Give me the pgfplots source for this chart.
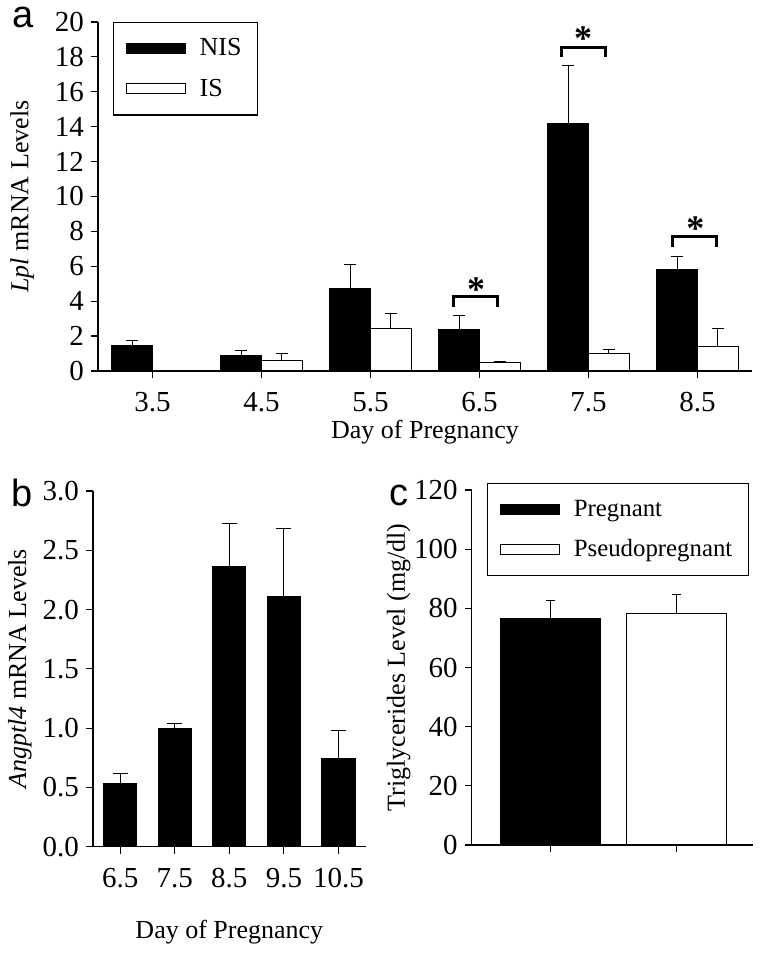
\documentclass[border=0pt]{standalone}
\usepackage{fontspec}
\setmainfont{Liberation Serif}
\newfontfamily\arialfont{Liberation Sans}
\usepackage{pgfplots}
\pgfplotsset{compat=1.18}
\tikzset{sigstar/.style={font=\bfseries\fontsize{18}{18}\selectfont, yshift=-1.5pt}}

\pgfplotsset{
  mystyle/.style={
    scale only axis,
    axis x line*=bottom, axis y line*=left,
    axis line style={-, line width=0.7pt},
    tick align=outside,
    major tick length=3.5pt,
    tick style={black, line width=0.6pt},
    ticklabel style={font=\fontsize{14.5}{16}\selectfont},
    label style={font=\fontsize{13}{15}\selectfont},
    /pgf/number format/assume math mode=true,
    ybar, ymin=0,
    xticklabel style={yshift=-3.8pt},
    legend style={draw=black, line width=0.6pt, font=\fontsize{13}{15}\selectfont,
      inner xsep=6pt, inner ysep=6pt, row sep=6pt, legend cell align=left,
      /tikz/every odd column/.append style={column sep=5pt}},
  },
  barlegend/.style={legend image code/.code={\draw[##1] (0pt,-2.5pt) rectangle (29.5pt,2.5pt);}},
  blackbar/.style={fill=black, draw=black, line width=0.5pt, bar shift=0pt, barlegend,
    error bars/.cd, y dir=plus, y explicit,
    error bar style={line width=0.5pt, black},
    error mark options={rotate=90, mark size=#1, line width=0.5pt, black}},
  whitebar/.style={fill=white, draw=black, line width=0.5pt, bar shift=0pt, barlegend,
    error bars/.cd, y dir=plus, y explicit,
    error bar style={line width=0.5pt, black},
    error mark options={rotate=90, mark size=#1, line width=0.5pt, black}},
  bracket/.style={sharp plot, mark=none, black, line width=1.5pt, forget plot},
}

\begin{document}
\begin{tikzpicture}
\path[use as bounding box] (0,0) rectangle (381pt,477pt);

% ---------------- panel a ----------------
\begin{axis}[mystyle,
  at={(49pt,291.5pt)}, anchor=south west, width=327pt, height=174.5pt,
  xmin=3, xmax=9, ymax=20, ytick={0,2,...,20},
  xtick={3.5,4.5,5.5,6.5,7.5,8.5}, xticklabels={3.5,4.5,5.5,6.5,7.5,8.5},
  bar width=0.376,
  ylabel={\textit{Lpl} mRNA Levels},
  ylabel style={at={(axis description cs:-0.116,0.5)}, anchor=center},
  xlabel={Day of Pregnancy},
  xlabel style={at={(axis description cs:0.5,0)}, anchor=center, yshift=-30.5pt},
  legend style={at={(0.023,1)}, anchor=north west},
  ]
\addplot[blackbar=3pt]
  coordinates {(3.312,1.45) +- (0,0.29) (4.312,0.88) +- (0,0.31) (5.312,4.72) +- (0,1.39)
               (6.312,2.35) +- (0,0.84) (7.312,14.21) +- (0,3.31) (8.312,5.79) +- (0,0.76)};
\addlegendentry{NIS}
\addplot[whitebar=3pt]
  coordinates {(4.688,0.63) +- (0,0.40) (5.688,2.46) +- (0,0.85)
               (6.688,0.50) +- (0,0.07) (7.688,0.99) +- (0,0.25) (8.688,1.39) +- (0,1.02)};
\addlegendentry{IS}
\addplot[bracket] coordinates {(6.26,3.68) (6.26,4.26) (6.665,4.26) (6.665,3.68)};
\addplot[bracket] coordinates {(7.25,18.01) (7.25,18.53) (7.656,18.53) (7.656,18.01)};
\addplot[bracket] coordinates {(8.268,7.12) (8.268,7.70) (8.672,7.70) (8.672,7.12)};
\node[sigstar] at (axis cs:6.47,4.83) {*};
\node[sigstar] at (axis cs:7.45,19.21) {*};
\node[sigstar] at (axis cs:8.48,8.31) {*};
\end{axis}

% ---------------- panel b ----------------
\begin{axis}[mystyle,
  at={(46.5pt,53.65pt)}, anchor=south west, width=136.35pt, height=177.85pt,
  xmin=6, xmax=11, ymax=3, ytick={0,0.5,1,1.5,2,2.5,3},
  yticklabel style={/pgf/number format/.cd, fixed, fixed zerofill, precision=1},
  xtick={6.5,7.5,8.5,9.5,10.5}, xticklabels={6.5,7.5,8.5,9.5,10.5},
  bar width=0.61,
  ylabel={\textit{Angptl4} mRNA Levels},
  ylabel style={at={(axis description cs:-0.268,0.5)}, anchor=center},
  xlabel={Day of Pregnancy},
  xlabel style={at={(axis description cs:0.5,0)}, anchor=center, yshift=-42.6pt},
  ]
\addplot[blackbar=3.75pt]
  coordinates {(6.5,0.535) +- (0,0.085) (7.5,1.00) +- (0,0.04) (8.5,2.36) +- (0,0.37)
               (9.5,2.11) +- (0,0.57) (10.5,0.745) +- (0,0.235)};
\end{axis}

% ---------------- panel c ----------------
\begin{axis}[mystyle,
  at={(235.85pt,54.5pt)}, anchor=south west, width=140.5pt, height=177.5pt,
  xmin=0.38, xmax=2.6, ymax=120, ytick={0,20,...,120},
  xtick={1,2}, xticklabels={},
  bar width=0.79,
  ylabel={Triglycerides Level (mg/dl)},
  ylabel style={at={(axis description cs:-0.26,0.5)}, anchor=center},
  legend style={at={(0.0555,1.019)}, anchor=north west, font=\fontsize{12.4}{15}\selectfont},
  ]
\addplot[blackbar=2.25pt]
  coordinates {(1,76.6) +- (0,6.2)};
\addlegendentry{Pregnant}
\addplot[whitebar=2.25pt]
  coordinates {(2,78.1) +- (0,6.7)};
\addlegendentry{Pseudopregnant}
\end{axis}

\node[font=\arialfont\fontsize{19}{19}\selectfont] at (11.5pt,468.5pt) {a};
\node[font=\arialfont\fontsize{19}{19}\selectfont] at (11pt,230.6pt) {b};
\node[font=\arialfont\fontsize{19}{19}\selectfont] at (199.5pt,229.5pt) {c};
\end{tikzpicture}
\end{document}
